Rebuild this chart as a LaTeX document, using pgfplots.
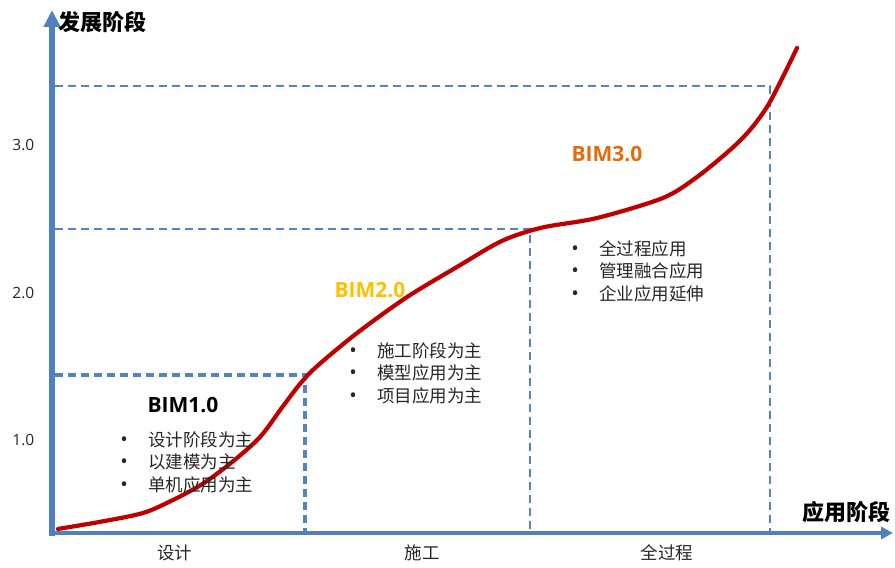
\documentclass[border=0pt]{standalone}
\usepackage{fontspec}
\setmainfont{Open Sans}
\newfontfamily\cjk{Noto Sans CJK SC}
\usepackage{pgfplots}
\pgfplotsset{compat=1.18}
\usetikzlibrary{arrows.meta}

\definecolor{axisblue}{RGB}{79,129,189}
\definecolor{dashblue}{RGB}{84,132,192}
\definecolor{curvered}{RGB}{192,0,0}
\definecolor{bimgold}{RGB}{255,192,0}
\definecolor{bimorange}{RGB}{228,108,10}
\definecolor{txt}{RGB}{38,38,38}

% one bulleted line: dot centred on the line start, text 24pt further right
\newcommand{\featureline}[1]{\makebox[0pt]{{\fontsize{20}{20}\selectfont\textbullet}}\hspace{24pt}{\cjk #1}}
\newcommand{\features}[3]{%
  {\fontsize{17.5}{22.5}\selectfont
   \begin{tabular}{@{}l@{}}\featureline{#1}\\\featureline{#2}\\\featureline{#3}\end{tabular}}}

\begin{document}
\begin{tikzpicture}
\begin{axis}[
  scale only axis,
  width=841pt, height=523pt,
  xmin=0, xmax=841,
  ymin=0.3695, ymax=3.9153,
  axis lines=left,
  axis line style={draw=none},
  tick style={draw=none},
  clip=false,
  xtick={123,370,615},
  xticklabels={设计,施工,全过程},
  xticklabel style={font=\cjk\fontsize{17.5}{20}\selectfont, text=txt, yshift=-6pt},
  ytick={1,2,3},
  yticklabels={1.0,2.0,3.0},
  yticklabel style={font=\fontsize{15.5}{16}\selectfont, text=txt, xshift=-12pt},
]
% coordinate axes with arrow heads
\draw[axisblue, line width=6pt, -{Triangle[width=16pt,length=17pt]}]
  (axis cs:0,0.352) -- (axis cs:0,3.9153);
\draw[axisblue, line width=3.6pt, -{Triangle[width=12pt,length=12pt]}]
  (axis cs:-3,0.3695) -- (axis cs:841,0.3695);

% stage boundaries
\addplot[dashblue, line width=3.2pt, dash pattern=on 8pt off 5pt]
  coordinates {(3,1.441) (253,1.441) (253,0.3695)};
\addplot[dashblue, line width=2.8pt, dash pattern=on 8pt off 5pt]
  coordinates {(3,2.431) (478,2.431) (478,0.3695)};
\addplot[dashblue, line width=2.5pt, dash pattern=on 8pt off 5pt]
  coordinates {(3,3.400) (718,3.400) (718,0.3695)};

% development curve
\addplot[curvered, line width=4.2pt, smooth, line cap=round] coordinates {
  (6,0.397) (48,0.445) (91,0.505) (120,0.59) (150,0.70) (180,0.85)
  (208,1.02) (230,1.22) (248,1.38) (265,1.50) (305,1.725) (355,1.969)
  (405,2.173) (450,2.35) (490,2.44) (545,2.505) (611,2.641) (645,2.783)
  (678,2.966) (698,3.102) (715,3.258) (730,3.45) (745,3.658)
};

% axis titles
\node[anchor=west, inner sep=0pt] at (axis cs:6,3.834)
  {\cjk\bfseries\fontsize{22}{24}\selectfont 发展阶段};
\node[inner sep=0pt] at (axis cs:794,0.512)
  {\cjk\bfseries\fontsize{22}{24}\selectfont 应用阶段};

% stage names
\node[inner sep=0pt, text=black] at (axis cs:131,1.237)
  {\bfseries\fontsize{21}{24}\selectfont BIM1.0};
\node[inner sep=0pt, text=bimgold] at (axis cs:318,2.017)
  {\bfseries\fontsize{21}{24}\selectfont BIM2.0};
\node[inner sep=0pt, text=bimorange] at (axis cs:555,2.939)
  {\bfseries\fontsize{21}{24}\selectfont BIM3.0};

% stage features
\begin{scope}[every node/.style={inner sep=0pt, text=txt, anchor=west}]
\node at (axis cs:72,0.836)  {\features{设计阶段为主}{以建模为主}{单机应用为主}};
\node at (axis cs:301,1.439) {\features{施工阶段为主}{模型应用为主}{项目应用为主}};
\node at (axis cs:523,2.130) {\features{全过程应用}{管理融合应用}{企业应用延伸}};
\end{scope}

\coordinate (O) at (rel axis cs:0,0);
\end{axis}
\pgfresetboundingbox
\path (O) ++(-52pt,-35pt) rectangle ++(895pt,568pt);
\end{tikzpicture}
\end{document}
